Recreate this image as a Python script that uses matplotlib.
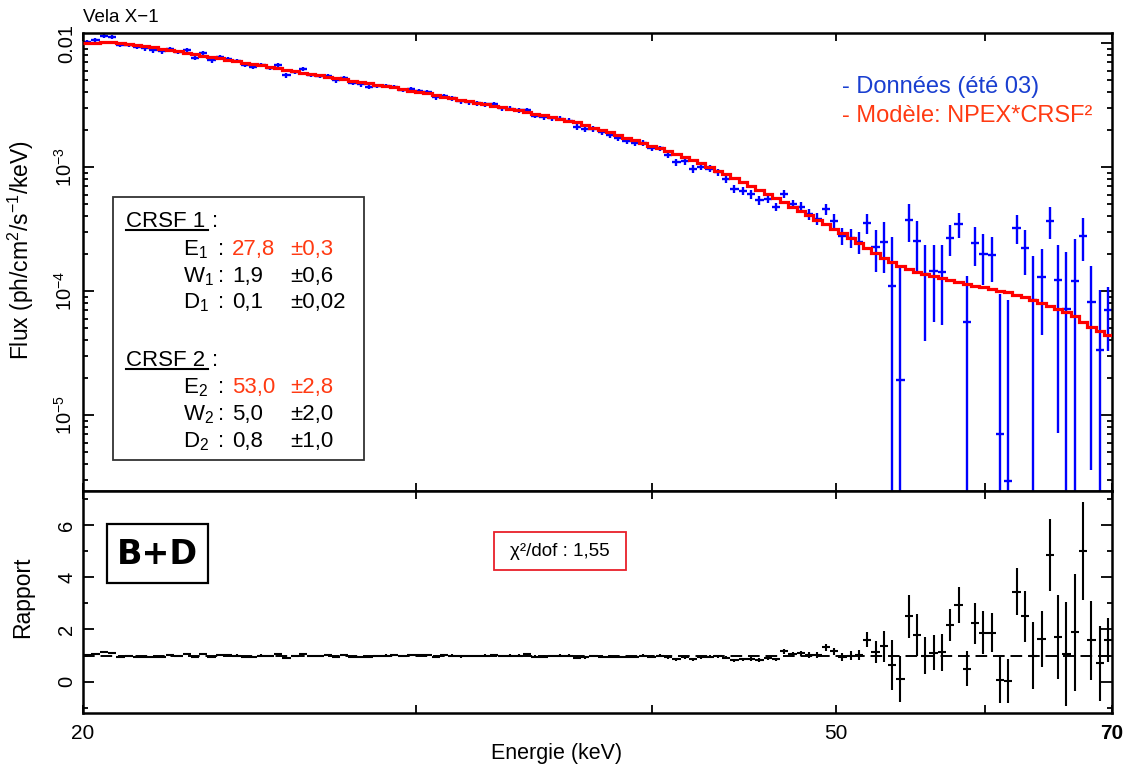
import numpy as np
import matplotlib
matplotlib.use("Agg")
import matplotlib.pyplot as plt
from matplotlib.patches import Rectangle
from matplotlib.lines import Line2D
from matplotlib.ticker import FixedLocator, NullLocator, NullFormatter

plt.rcParams["font.family"] = ["Liberation Sans", "DejaVu Sans"]
plt.rcParams["mathtext.fontset"] = "custom"
plt.rcParams["mathtext.rm"] = "Liberation Sans"
plt.rcParams["mathtext.it"] = "Liberation Sans:italic"
plt.rcParams["mathtext.bf"] = "Liberation Sans:bold"

W, H = 1125, 771
BLUE, RED, ORANGE, DBLUE = "#0000ff", "#ff0000", "#ff3a12", "#1a3fd0"

# --- data -----------------------------------------------------------------
# energy bin edges (keV)
edges = [20.00, 20.20, 20.41, 20.62, 20.82, 21.04, 21.25, 21.47, 21.68, 21.90,
         22.13, 22.35, 22.58, 22.81, 23.04, 23.27, 23.51, 23.75, 23.99, 24.23,
         24.48, 24.73, 24.98, 25.23, 25.49, 25.75, 26.01, 26.27, 26.54, 26.81,
         27.08, 27.36, 27.63, 27.91, 28.20, 28.48, 28.77, 29.07, 29.36, 29.66,
         29.96, 30.26, 30.57, 30.88, 31.20, 31.51, 31.83, 32.16, 32.48, 32.81,
         33.15, 33.48, 33.82, 34.17, 34.51, 34.86, 35.22, 35.58, 35.94, 36.30,
         36.67, 37.04, 37.42, 37.80, 38.18, 38.57, 38.96, 39.36, 39.76, 40.16,
         40.57, 40.98, 41.40, 41.82, 42.24, 42.67, 43.10, 43.54, 43.98, 44.43,
         44.88, 45.34, 45.80, 46.26, 46.73, 47.21, 47.69, 48.17, 48.66, 49.15,
         49.65, 50.16, 50.67, 51.18, 51.70, 52.23, 52.76, 53.29, 53.83, 54.38,
         54.93, 55.49, 56.05, 56.62, 57.20, 57.78, 58.37, 58.96, 59.56, 60.16,
         60.77, 61.39, 62.01, 62.64, 63.28, 63.92, 64.57, 65.23, 65.89, 66.56,
         67.23, 67.92, 68.61, 69.30, 70.00]

# NPEX*CRSF^2 model (ph/cm2/s/keV), one value per bin
model = [1.000e-2, 1.009e-2, 1.019e-2, 1.019e-2, 1.009e-2, 9.91e-3, 9.73e-3, 9.46e-3, 9.28e-3, 9.03e-3,
         8.78e-3, 8.62e-3, 8.38e-3, 8.15e-3, 7.93e-3, 7.71e-3, 7.57e-3, 7.36e-3, 7.16e-3, 6.96e-3,
         6.77e-3, 6.65e-3, 6.46e-3, 6.29e-3, 6.11e-3, 5.95e-3, 5.78e-3, 5.68e-3, 5.52e-3, 5.37e-3,
         5.22e-3, 5.13e-3, 4.98e-3, 4.85e-3, 4.76e-3, 4.63e-3, 4.50e-3, 4.38e-3, 4.26e-3, 4.14e-3,
         4.03e-3, 3.92e-3, 3.81e-3, 3.70e-3, 3.60e-3, 3.50e-3, 3.41e-3, 3.31e-3, 3.22e-3, 3.13e-3,
         3.05e-3, 2.96e-3, 2.88e-3, 2.78e-3, 2.70e-3, 2.63e-3, 2.53e-3, 2.46e-3, 2.37e-3, 2.29e-3,
         2.18e-3, 2.08e-3, 1.99e-3, 1.90e-3, 1.81e-3, 1.73e-3, 1.65e-3, 1.56e-3, 1.49e-3, 1.42e-3,
         1.35e-3, 1.27e-3, 1.20e-3, 1.14e-3, 1.08e-3, 1.01e-3, 9.37e-4, 8.78e-4, 8.15e-4, 7.57e-4,
         7.03e-4, 6.52e-4, 6.06e-4, 5.62e-4, 5.22e-4, 4.80e-4, 4.42e-4, 4.10e-4, 3.77e-4, 3.47e-4,
         3.19e-4, 2.94e-4, 2.68e-4, 2.44e-4, 2.22e-4, 2.03e-4, 1.85e-4, 1.71e-4, 1.59e-4, 1.50e-4,
         1.42e-4, 1.37e-4, 1.32e-4, 1.27e-4, 1.23e-4, 1.18e-4, 1.14e-4, 1.10e-4, 1.07e-4, 1.04e-4,
         1.01e-4, 9.81e-5, 9.37e-5, 8.95e-5, 8.46e-5, 8.08e-5, 7.64e-5, 7.16e-5, 6.77e-5, 6.29e-5,
         5.60e-5, 5.15e-5, 4.75e-5, 4.40e-5]

# data / model ratio and its 1-sigma error, one value per bin
ratio = [1.02, 1.05, 1.12, 1.10, 0.96, 0.97, 0.96, 0.96, 0.94, 0.95,
         1.02, 0.98, 1.05, 0.93, 1.05, 0.94, 1.02, 1.01, 1.00, 0.96,
         0.95, 1.00, 0.97, 1.06, 0.90, 0.98, 1.07, 0.97, 0.98, 1.01,
         0.96, 1.02, 0.96, 0.96, 0.93, 0.97, 1.00, 1.01, 0.98, 1.03,
         1.02, 1.03, 0.96, 1.01, 1.00, 0.97, 0.98, 0.99, 1.00, 1.03,
         0.98, 1.00, 1.00, 1.04, 0.96, 0.96, 0.98, 1.00, 1.00, 0.92,
         0.93, 0.98, 0.96, 0.96, 0.95, 0.94, 0.95, 1.00, 0.96, 1.00,
         0.93, 0.86, 0.93, 0.85, 0.93, 0.96, 0.97, 0.91, 0.82, 0.85,
         0.86, 0.83, 0.91, 0.85, 1.16, 1.05, 1.08, 1.02, 1.02, 1.32,
         1.16, 0.95, 1.00, 1.02, 1.60, 1.12, 1.35, 0.64, 0.12, 2.50,
         1.80, 1.00, 1.10, 1.13, 2.17, 2.94, 0.49, 2.23, 1.87, 1.88,
         0.07, 0.03, 3.45, 2.50, 1.00, 1.62, 4.85, 1.70, 1.05, 1.90,
         5.00, 1.58, 0.71, 1.60]

ratio_err = [0.04, 0.04, 0.04, 0.04, 0.04, 0.04, 0.04, 0.04, 0.04, 0.04,
             0.04, 0.04, 0.04, 0.04, 0.04, 0.04, 0.04, 0.04, 0.04, 0.04,
             0.04, 0.04, 0.04, 0.04, 0.04, 0.04, 0.04, 0.04, 0.04, 0.04,
             0.04, 0.04, 0.04, 0.04, 0.04, 0.04, 0.04, 0.04, 0.04, 0.04,
             0.04, 0.045, 0.045, 0.045, 0.045, 0.045, 0.045, 0.045, 0.045, 0.045,
             0.045, 0.045, 0.045, 0.045, 0.045, 0.045, 0.045, 0.045, 0.045, 0.045,
             0.045, 0.05, 0.05, 0.05, 0.05, 0.05, 0.05, 0.05, 0.05, 0.05,
             0.05, 0.06, 0.06, 0.06, 0.06, 0.06, 0.06, 0.06, 0.06, 0.07,
             0.07, 0.07, 0.07, 0.07, 0.09, 0.09, 0.10, 0.10, 0.11, 0.13,
             0.14, 0.15, 0.17, 0.20, 0.29, 0.42, 0.60, 0.95, 0.88, 0.83,
             0.80, 0.71, 0.67, 0.71, 0.61, 0.69, 0.67, 0.77, 0.83, 0.74,
             0.87, 0.83, 0.91, 0.99, 1.28, 1.07, 1.38, 1.60, 1.99, 2.24,
             1.87, 1.51, 1.44, 0.85]

edges = np.array(edges)
model = np.array(model)
ratio = np.array(ratio)
ratio_err = np.array(ratio_err)

centre = np.sqrt(edges[:-1] * edges[1:])
xerr = [centre - edges[:-1], edges[1:] - centre]
flux = ratio * model
flux_err = ratio_err * model
# errors reaching zero run off the bottom of the log axis
flux_lo = np.where(flux - flux_err > 0, flux_err, flux * (1 - 1e-9))


def fx(x):
    return x / W


def fy(y):
    return 1 - y / H


fig = plt.figure(figsize=(W / 100, H / 100), dpi=100)
ax1 = fig.add_axes([fx(83), fy(491), fx(1112) - fx(83), fy(33) - fy(491)])
ax2 = fig.add_axes([fx(83), fy(713), fx(1112) - fx(83), fy(491) - fy(713)])

# top: spectrum + model
ax1.errorbar(centre, flux, xerr=xerr, yerr=[flux_lo, flux_err], fmt="none",
             ecolor=BLUE, elinewidth=1.7, capsize=0, zorder=2)
ax1.stairs(model, edges, color=RED, lw=2.3, baseline=None, zorder=3)
ax1.set_yscale("log")
ax1.set_ylim(2.44e-6, 1.205e-2)

# bottom: ratio
ax2.axhline(1, color="black", lw=1.4, ls=(0, (6, 3)), zorder=1)
ax2.errorbar(centre, ratio, xerr=xerr, yerr=ratio_err, fmt="none",
             ecolor="black", elinewidth=1.5, capsize=0, zorder=2)
ax2.set_ylim(-1.2, 7.3)

for ax in (ax1, ax2):
    ax.set_xscale("log")
    ax.set_xlim(20, 70)
    ax.xaxis.set_major_locator(FixedLocator([20, 30, 40, 50, 60, 70]))
    ax.xaxis.set_minor_locator(NullLocator())
    ax.xaxis.set_minor_formatter(NullFormatter())
    ax.tick_params(which="both", direction="in", top=True, right=True, width=1.3)
    ax.tick_params(which="major", length=6, labelsize=14.5)
    ax.tick_params(which="minor", length=3.5)
    for s in ax.spines.values():
        s.set_linewidth(1.8)

ax1.tick_params(labelbottom=False)
ax1.set_yticks([1e-5, 1e-4, 1e-3, 1e-2])
ax1.set_yticklabels([r"$10^{-5}$", r"$10^{-4}$", r"$10^{-3}$", "0.01"],
                    rotation=90, va="center")
ax1.yaxis.set_minor_locator(FixedLocator(
    [m * 10.0 ** e for e in (-6, -5, -4, -3) for m in range(2, 10)]))
ax1.yaxis.set_minor_formatter(NullFormatter())
ax1.tick_params(axis="y", which="major", length=8, pad=5)

ax2.set_yticks([0, 2, 4, 6])
ax2.set_yticklabels(["0", "2", "4", "6"], rotation=90, va="center")
ax2.yaxis.set_minor_locator(FixedLocator([-1, 1, 3, 5, 7]))
ax2.tick_params(axis="y", which="major", length=8, pad=5)
ax2.set_xticklabels(["20", "", "", "50", "", "70"], fontsize=15)
ax2.get_xticklabels()[-1].set_fontweight("bold")
ax2.tick_params(axis="x", pad=8)

# axis labels
fig.text(fx(21), fy(250), r"Flux (ph/cm$^2$/s$^{-1}$/keV)", rotation=90,
         ha="center", va="center", fontsize=16.5)
fig.text(fx(23), fy(597), "Rapport", rotation=90, ha="center", va="center",
         fontsize=16.5)
fig.text(fx(557), fy(754), "Energie (keV)", ha="center", va="center", fontsize=15.5)
fig.text(fx(83), fy(17), "Vela X\u22121", ha="left", va="center", fontsize=13.5)

# legend text
fig.text(fx(842), fy(87), "- Données (été 03)", color=DBLUE, ha="left",
         va="center", fontsize=17)
fig.text(fx(842), fy(116), "- Modèle: NPEX*CRSF²", color=ORANGE, ha="left",
         va="center", fontsize=17)

# CRSF parameter box
fig.add_artist(Rectangle((fx(113), fy(460)), fx(364) - fx(113), fy(197) - fy(460),
                         transform=fig.transFigure, facecolor="white",
                         edgecolor="#333333", lw=1.3, zorder=5))
FS = 16
rows = [
    (255, "E", "1", "27,8", "±0,3", ORANGE),
    (282, "W", "1", "1,9", "±0,6", "black"),
    (308, "D", "1", "0,1", "±0,02", "black"),
    (393, "E", "2", "53,0", "±2,8", ORANGE),
    (420, "W", "2", "5,0", "±2,0", "black"),
    (447, "D", "2", "0,8", "±1,0", "black"),
]
for yb, head in ((227, "CRSF 1"), (366, "CRSF 2")):
    fig.text(fx(126), fy(yb), head, ha="left", va="baseline", fontsize=FS, zorder=6)
    fig.text(fx(212), fy(yb), ":", ha="left", va="baseline", fontsize=FS, zorder=6)
    fig.add_artist(Line2D([fx(126), fx(208)], [fy(yb + 3), fy(yb + 3)],
                          transform=fig.transFigure, color="black", lw=1.5, zorder=6))
for yb, letter, sub, val, err, col in rows:
    fig.text(fx(183), fy(yb), letter + r"$_{\mathrm{" + sub + "}}$", ha="left",
             va="baseline", fontsize=FS, zorder=6)
    fig.text(fx(221), fy(yb), ":", ha="center", va="baseline", fontsize=FS, zorder=6)
    fig.text(fx(232), fy(yb), val, color=col, ha="left", va="baseline",
             fontsize=FS, zorder=6)
    fig.text(fx(290), fy(yb), err, color=col, ha="left", va="baseline",
             fontsize=FS, zorder=6)

# B+D tag
fig.add_artist(Rectangle((fx(107), fy(583)), fx(208) - fx(107), fy(524) - fy(583),
                         transform=fig.transFigure, facecolor="white",
                         edgecolor="black", lw=1.6, zorder=5))
fig.text(fx(157), fy(554), "B+D", ha="center", va="center", fontsize=24,
         fontweight="heavy", family="DejaVu Sans", zorder=6)

# chi2 box
fig.add_artist(Rectangle((fx(494), fy(570)), fx(626) - fx(494), fy(532) - fy(570),
                         transform=fig.transFigure, facecolor="white",
                         edgecolor="#e8202a", lw=1.3, zorder=5))
fig.text(fx(560), fy(551), "χ²/dof : 1,55", ha="center", va="center",
         fontsize=13.5, zorder=6)

fig.savefig("out.png", dpi=100)
